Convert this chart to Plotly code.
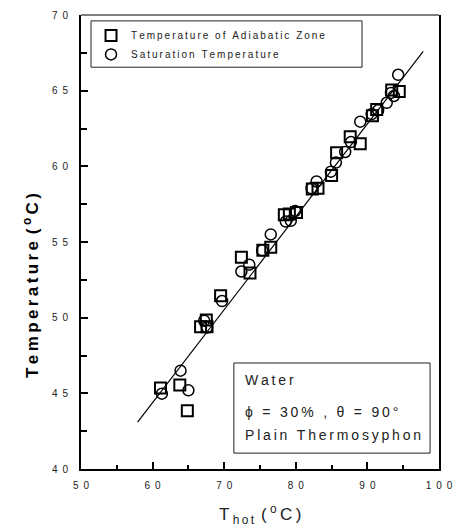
import plotly.graph_objects as go

# ---------------- data ----------------
adiabatic_x = [61.1, 63.8, 64.85, 66.7, 67.5, 67.6, 69.5, 72.4, 73.6, 75.4, 76.5,
               78.4, 79.1, 80.1, 82.3, 83.1, 85.0, 85.7, 87.6, 89.0, 90.7, 91.3,
               93.4, 94.45]
adiabatic_y = [45.35, 45.55, 43.85, 49.4, 49.85, 49.4, 51.45, 54.0, 52.95, 54.45, 54.65,
               56.8, 56.85, 56.95, 58.5, 58.55, 59.4, 60.9, 61.95, 61.5, 63.35, 63.75,
               65.05, 64.95]

saturation_x = [61.3, 63.9, 65.0, 67.2, 67.6, 69.7, 72.4, 73.5, 75.3, 76.5, 78.6,
                79.3, 79.9, 82.2, 82.9, 84.9, 85.6, 86.9, 87.7, 89.0, 90.6, 91.5,
                92.7, 93.3, 93.7, 94.3]
saturation_y = [44.98, 46.5, 45.2, 49.8, 49.35, 51.1, 53.05, 53.5, 54.45, 55.5, 56.35,
                56.4, 57.05, 58.55, 59.0, 59.65, 60.25, 60.95, 61.6, 62.95, 63.45, 63.7,
                64.2, 64.85, 64.65, 66.05]

fit_x = [57.9, 97.8]
fit_y = [43.1, 67.6]

x_tickvals = [50, 60, 70, 80, 90, 100]
x_ticktext = ["50", "60", "70", "80", "90", "100"]
x_minor = [55, 65, 75, 85, 95]
y_tickvals = [40, 45, 50, 55, 60, 65, 70]
y_ticktext = ["40", "45", "50", "55", "60", "65", "70"]
y_minor = [42.5, 47.5, 52.5, 57.5, 62.5, 67.5]

series_names = ["Temperature of Adiabatic Zone", "Saturation Temperature"]
note_lines = ["Water", "\u03d5 = 30% , \u03b8 = 90\u00b0", "Plain Thermosyphon"]

# ---------------- helpers ----------------
TS = "\u2009"   # thin space
EN = "\u2002"   # en space


def spaced(s, sep=TS):
    return sep.join(list(s))


FONT = "Arial, Liberation Sans, sans-serif"

fig = go.Figure()

fig.add_trace(go.Scatter(
    x=fit_x, y=fit_y, mode="lines",
    line=dict(color="black", width=1.2),
    showlegend=False, hoverinfo="skip"))

fig.add_trace(go.Scatter(
    x=adiabatic_x, y=adiabatic_y, mode="markers", name=spaced(series_names[0]),
    marker=dict(symbol="square-open", size=11, color="black",
                line=dict(color="black", width=2))))

fig.add_trace(go.Scatter(
    x=saturation_x, y=saturation_y, mode="markers", name=spaced(series_names[1]),
    marker=dict(symbol="circle-open", size=11, color="black",
                line=dict(color="black", width=1.5))))

tickfont = dict(family=FONT, size=10, color="#222222")

fig.update_xaxes(
    range=[50, 100], showgrid=False, zeroline=False,
    showline=True, linecolor="black", linewidth=2, mirror=False,
    tickmode="array", tickvals=x_tickvals, ticktext=[spaced(t, EN) for t in x_ticktext],
    ticks="inside", ticklen=7, tickwidth=2, tickcolor="black",
    minor=dict(tickvals=x_minor, ticks="inside", ticklen=4, tickwidth=2, tickcolor="black"),
    tickfont=tickfont, ticklabelstandoff=6)

fig.update_yaxes(
    range=[40, 70], showgrid=False, zeroline=False,
    showline=True, linecolor="black", linewidth=2, mirror=True,
    tickmode="array", tickvals=y_tickvals, ticktext=[spaced(t, EN) for t in y_ticktext],
    ticks="inside", ticklen=7, tickwidth=1.5, tickcolor="black",
    minor=dict(tickvals=y_minor, ticks="inside", ticklen=6, tickwidth=1.5, tickcolor="black"),
    tickfont=tickfont, ticklabelstandoff=9)

# top border (thin)
fig.add_shape(type="line", xref="paper", yref="paper", x0=0, x1=1, y0=1, y1=1,
              line=dict(color="black", width=1))

# legend frame
fig.add_shape(type="rect", xref="paper", yref="paper",
              x0=0.028, x1=0.785, y0=0.885, y1=0.987,
              line=dict(color="#222222", width=1), fillcolor="rgba(0,0,0,0)", layer="above")

# note box
fig.add_shape(type="rect", xref="paper", yref="paper",
              x0=0.427, x1=0.975, y0=0.035, y1=0.2335,
              line=dict(color="#222222", width=1), fillcolor="rgba(0,0,0,0)", layer="above")
for yy, txt in zip([0.196, 0.1256, 0.0749], note_lines):
    fig.add_annotation(xref="paper", yref="paper", x=0.4525, y=yy, xanchor="left",
                       yanchor="middle", showarrow=False, text=spaced(txt),
                       font=dict(family=FONT, size=14, color="#222222"))

# axis titles
fig.add_annotation(xref="paper", yref="paper", x=-0.14, y=0.405, textangle=-90,
                   showarrow=False, xanchor="center", yanchor="middle",
                   text="<b>" + spaced("Temperature") + TS + TS + "(" + TS + "<sup>o</sup>" + TS + "C" + TS + ")</b>",
                   font=dict(family=FONT, size=17, color="black"))
fig.add_annotation(xref="paper", yref="paper", x=0.5, y=-0.1,
                   showarrow=False, xanchor="center", yanchor="middle",
                   text="T" + TS + "<sub>" + spaced("hot") + "</sub>" + TS + TS + "(" + TS + "<sup>o</sup>" + TS + "C" + TS + ")",
                   font=dict(family=FONT, size=17, color="#222222"))

fig.update_layout(
    width=456, height=531,
    margin=dict(l=81, r=17, t=15, b=62, autoexpand=False),
    paper_bgcolor="white", plot_bgcolor="white",
    showlegend=True,
    legend=dict(x=0.028, y=0.987, xanchor="left", yanchor="top",
                borderwidth=0, bgcolor="rgba(0,0,0,0)",
                font=dict(family=FONT, size=10, color="#222222"),
                itemsizing="trace"),
)

fig.write_html("out.html", config={"displayModeBar": False},
               post_script="document.body.style.margin='0px';document.body.style.overflow='hidden';")
